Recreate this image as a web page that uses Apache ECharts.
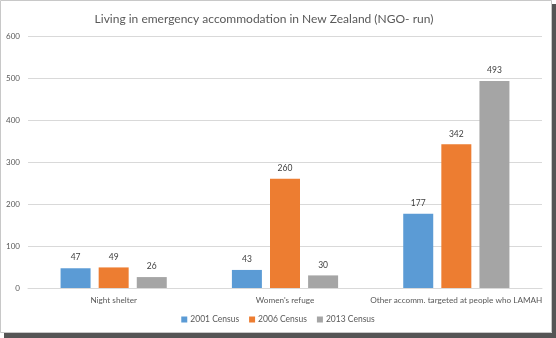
<!DOCTYPE html>
<html><head><meta charset="utf-8">
<script src="https://cdn.jsdelivr.net/npm/echarts@6/dist/echarts.min.js"></script>
<style>html,body{margin:0;padding:0;background:#fff}#c{width:556px;height:338px}</style>
</head><body><div id="c"></div>
<script>
const categories = ["Night shelter", "Women's refuge", "Other accomm. targeted at people who LAMAH"];
const seriesNames = ["2001 Census", "2006 Census", "2013 Census"];
const values2001 = [47, 43, 177];
const values2006 = [49, 260, 342];
const values2013 = [26, 30, 493];
const colors = ["#5B9BD5", "#ED7D31", "#A5A5A5"];
const yTicks = [0, 100, 200, 300, 400, 500, 600];

const font = "Lato, 'Open Sans', sans-serif";
const chart = echarts.init(document.getElementById('c'), null, {renderer: 'canvas'});
const data = [values2001, values2006, values2013];
chart.setOption({
  backgroundColor: '#fff',
  animation: false,
  title: {
    text: 'Living in emergency accommodation in New Zealand (NGO- run)',
    left: 259, top: 8, textAlign: 'center',
    textStyle: {fontFamily: font, fontSize: 12, fontWeight: 'normal', color: '#595959'}
  },
  legend: {
    bottom: 9, left: 'center',
    itemWidth: 6, itemHeight: 6, itemGap: 10,
    icon: 'rect',
    textStyle: {fontFamily: font, fontSize: 8.5, color: '#595959', padding: [0, 0, 0, -2]},
    data: seriesNames
  },
  grid: {left: 28, right: 14, top: 36, bottom: 50, containLabel: false},
  xAxis: {
    type: 'category', data: categories,
    axisLine: {lineStyle: {color: '#d9d9d9'}},
    axisTick: {show: false},
    axisLabel: {fontFamily: font, fontSize: 8.2, color: '#595959', margin: 8, interval: 0}
  },
  yAxis: {
    type: 'value', min: yTicks[0], max: yTicks[yTicks.length - 1], interval: 100,
    axisLine: {show: false}, axisTick: {show: false},
    splitLine: {lineStyle: {color: '#d9d9d9'}},
    axisLabel: {fontFamily: font, fontSize: 8, color: '#595959', margin: 8}
  },
  series: seriesNames.map((n, i) => ({
    name: n, type: 'bar', data: data[i],
    barWidth: 30, barGap: '27%',
    itemStyle: {color: colors[i]},
    label: {show: true, position: 'top', distance: 6, fontFamily: font, fontSize: 8.5, color: '#404040'}
  })),
  graphic: [
    {type: 'rect', shape: {x: 552, y: 4, width: 4, height: 334}, style: {fill: '#555'}, z: 100},
    {type: 'rect', shape: {x: 4, y: 333, width: 552, height: 5}, style: {fill: '#555'}, z: 100},
    {type: 'rect', shape: {x: 0.5, y: 0.5, width: 551, height: 332}, style: {fill: 'none', stroke: '#c8c8c8', lineWidth: 1}, z: 100}
  ]
});
</script></body></html>
